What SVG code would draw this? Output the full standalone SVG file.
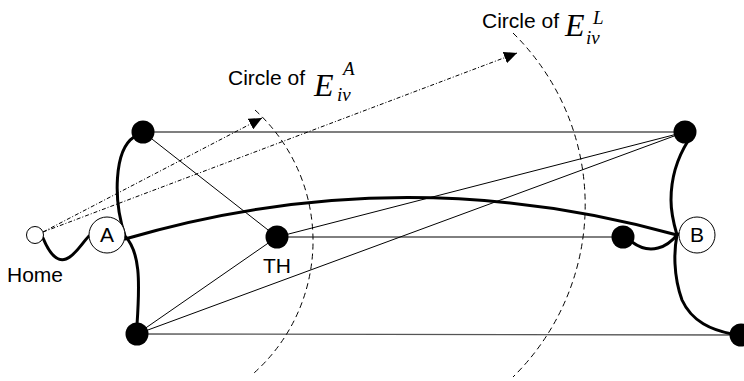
<svg xmlns="http://www.w3.org/2000/svg" width="744" height="381" viewBox="0 0 744 381">
<style>
.thin{stroke:#000;stroke-width:1;fill:none}
.gray{stroke:#555;stroke-width:1.3;fill:none}
.thick{stroke:#000;stroke-width:3;fill:none;stroke-linecap:round}
.dash{stroke:#000;stroke-width:1;fill:none;stroke-dasharray:6 4}
.dd{stroke:#000;stroke-width:1;fill:none;stroke-dasharray:4 2 1 2}
.node{fill:#000}
.open{fill:#fff;stroke:#000;stroke-width:1}
.lbl{font-family:"Liberation Sans",Arial,sans-serif;font-size:21px;fill:#000}
.math{font-family:"Liberation Serif","Times New Roman",serif;font-style:italic;fill:#000}
</style>
<defs>
<marker id="ah" markerUnits="userSpaceOnUse" markerWidth="14" markerHeight="12" refX="13" refY="6" orient="auto">
<path d="M0,0 L13,6 L0,12 z" fill="#000"/>
</marker>
</defs>
<g id="connectors">
<line class="gray" x1="143" y1="132" x2="685" y2="132"/>
<line class="gray" x1="137" y1="334" x2="741" y2="335"/>
<line class="thin" x1="143" y1="132" x2="277" y2="237"/>
<line class="thin" x1="277" y1="237" x2="623" y2="237"/>
<line class="thin" x1="277" y1="237" x2="685" y2="132"/>
<line class="thin" x1="137" y1="334" x2="277" y2="237"/>
<line class="thin" x1="137" y1="334" x2="685" y2="132"/>
<path class="thick" d="M43 238 C50 255 58 262 66 259 C75 256 82 243 89 236"/>
<path class="thick" d="M134 137 C114 150 113 200 125 236 C140 252 140 280 137 325"/>
<path class="thick" d="M125 239 Q400 158 677 235"/>
<path class="thick" d="M632 242 C640 248 650 250 658 248 C667 246 673 240 678 234"/>
<path class="thick" d="M688 141 C676 160 671 180 671 200 C671 215 675 228 677 235 C674 250 673 275 682 300 C692 322 712 330 732 334"/>
<line class="dd" x1="43" y1="232" x2="262" y2="118" marker-end="url(#ah)"/>
<line class="dd" x1="43" y1="232" x2="517" y2="53" marker-end="url(#ah)"/>
<path class="dash" d="M255 110 A177 177 0 0 1 254 373"/>
<path class="dash" d="M513 33 A241 241 0 0 1 513 377"/>
</g>
<g id="home"><circle class="open" cx="35" cy="235" r="8.5"/><text class="lbl" x="7" y="282">Home</text></g>
<g id="A"><circle class="open" cx="107" cy="235" r="18"/><text class="lbl" x="107" y="242" text-anchor="middle">A</text></g>
<g id="B"><circle class="open" cx="697" cy="235" r="18"/><text class="lbl" x="697" y="242" text-anchor="middle">B</text></g>
<g id="topleft"><circle class="node" cx="143" cy="132" r="11.5"/></g>
<g id="bottomleft"><circle class="node" cx="137" cy="334" r="11.5"/></g>
<g id="TH"><circle class="node" cx="277" cy="237" r="11.5"/><text class="lbl" x="263" y="273">TH</text></g>
<g id="rightmid"><circle class="node" cx="623" cy="237" r="11.5"/></g>
<g id="topright"><circle class="node" cx="685" cy="132" r="11.5"/></g>
<g id="bottomright"><circle class="node" cx="741" cy="335" r="11.5"/></g>
<g id="labelA">
<text class="lbl" x="228" y="85">Circle of</text>
<text class="math" x="314" y="96" font-size="32">E</text>
<text class="math" x="343" y="75" font-size="19">A</text>
<text class="math" x="337" y="101" font-size="19">iv</text>
</g>
<g id="labelL">
<text class="lbl" x="482" y="28">Circle of</text>
<text class="math" x="565" y="36" font-size="32">E</text>
<text class="math" x="593" y="24" font-size="19">L</text>
<text class="math" x="586" y="44" font-size="19">iv</text>
</g>
</svg>
